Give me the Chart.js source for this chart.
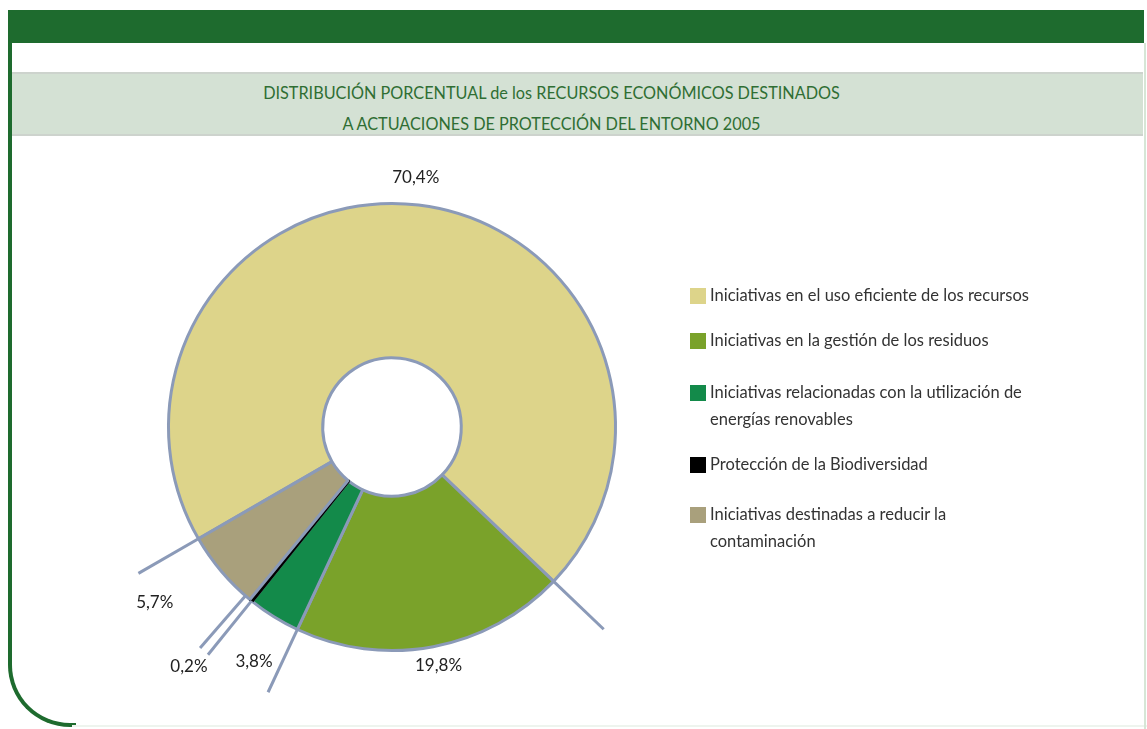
<!DOCTYPE html>
<html>
<head>
<meta charset="utf-8">
<script src="https://cdn.jsdelivr.net/npm/chart.js@4/dist/chart.umd.min.js"></script>
<style>
  html, body { margin: 0; padding: 0; background: #fff; }
  body { width: 1147px; height: 729px; position: relative; overflow: hidden; font-family: Lato, sans-serif; }
  #topBand { position: absolute; left: 8px; top: 10px; width: 1136px; height: 33px; background: #1e6b2e; }
  #corner { position: absolute; left: 8px; top: 43px; width: 64px; height: 680px;
            border-left: 4px solid #1e6b2e; border-bottom: 4px solid #1e6b2e; border-bottom-left-radius: 62px; }
  #bottomLine { position: absolute; left: 72px; top: 725px; width: 1075px; height: 2px; background: #eef4ee; }
  #rightLine { position: absolute; left: 1144px; top: 43px; width: 2px; height: 686px; background: #d6e6d6; }
  #titleBand { position: absolute; left: 12px; top: 72px; width: 1131px; height: 60px; background: #d4e1d4;
               border-top: 2px solid #cdd3cd; border-bottom: 2px solid #cdd3cd; }
  #titleBand div { position: absolute; left: 0; width: 100%; text-align: center; color: #2f6e33; font-size: 17px;
                   transform: translateX(-26px) scaleX(0.955); }
  #chartBox { position: absolute; left: 12px; top: 140px; width: 760px; height: 585px; }
  #legend { position: absolute; left: 690px; top: 282px; width: 380px; color: #333; font-size: 16.5px; }
  .item { position: relative; padding-left: 20px; line-height: 27px; }
  .item span.box { position: absolute; left: 0; top: 6px; width: 16px; height: 16px; }
</style>
</head>
<body>
<div id="topBand"></div>
<div id="corner"></div>
<div id="bottomLine"></div>
<div id="rightLine"></div>
<div id="titleBand">
  <div id="t1" style="top:8px">DISTRIBUCIÓN PORCENTUAL de los RECURSOS ECONÓMICOS DESTINADOS</div>
  <div id="t2" style="top:39px">A ACTUACIONES DE PROTECCIÓN DEL ENTORNO 2005</div>
</div>
<div id="chartBox"><canvas id="pie"></canvas></div>
<div id="legend"></div>
<script>
// categories (legend lines), shares in %, and the printed labels
const categories = [
    ['Iniciativas en el uso eficiente de los recursos'],
    ['Iniciativas en la gestión de los residuos'],
    ['Iniciativas relacionadas con la utilización de', 'energías renovables'],
    ['Protección de la Biodiversidad'],
    ['Iniciativas destinadas a reducir la', 'contaminación']
];
const shares = [70.4, 19.8, 3.8, 0.2, 5.7];
const shareLabels = ['70,4%', '19,8%', '3,8%', '0,2%', '5,7%'];

const sliceColors = ['#ddd48a', '#7aa22a', '#138a4a', '#000000', '#a9a07c'];
const edgeColor = '#8b9ab8';
const sliceEdges = [edgeColor, edgeColor, edgeColor, '#000000', edgeColor];
// label placement: multiple of outer radius, and a small turn (deg) off the slice middle
const labelReach = [1.12, 1.087, 1.217, 1.405, 1.32];
const labelTurn = [-1.4, -0.4, -1.4, 1.2, 3.8];
// leader line at the start of each slice, slight turn (deg) so the two thin ones separate
const leaderTurn = [0, 0, 0, 0.2, 1.5];
// gap above each legend entry
const legendGaps = [0, 18, 25, 18, 23];

const deg = Math.PI / 180;

const leaderLines = {
    id: 'leaderLines',
    afterDatasetsDraw(chart) {
        const ctx = chart.ctx;
        const arcs = chart.getDatasetMeta(0).data;
        ctx.save();
        ctx.strokeStyle = edgeColor;
        ctx.lineWidth = 3;
        arcs.forEach((arc, i) => {
            const {x, y, startAngle, outerRadius} = arc.getProps(['x', 'y', 'startAngle', 'outerRadius'], true);
            const a = startAngle + leaderTurn[i] * deg;
            ctx.beginPath();
            ctx.moveTo(x + Math.cos(a) * outerRadius, y + Math.sin(a) * outerRadius);
            ctx.lineTo(x + Math.cos(a) * outerRadius * 1.31, y + Math.sin(a) * outerRadius * 1.31);
            ctx.stroke();
        });
        ctx.fillStyle = '#222';
        ctx.font = '17px Lato';
        ctx.textAlign = 'center';
        ctx.textBaseline = 'middle';
        arcs.forEach((arc, i) => {
            const {x, y, startAngle, endAngle, outerRadius} = arc.getProps(['x', 'y', 'startAngle', 'endAngle', 'outerRadius'], true);
            const mid = (startAngle + endAngle) / 2 + labelTurn[i] * deg;
            const r = outerRadius * labelReach[i];
            ctx.fillText(shareLabels[i], x + Math.cos(mid) * r, y + Math.sin(mid) * r);
        });
        ctx.restore();
    }
};

const chart = new Chart(document.getElementById('pie'), {
    type: 'doughnut',
    data: {
        labels: categories,
        datasets: [{
            data: shares,
            backgroundColor: sliceColors,
            borderColor: sliceEdges,
            borderWidth: 3
        }]
    },
    options: {
        responsive: true,
        maintainAspectRatio: false,
        animation: false,
        rotation: 240,
        cutout: '31%',
        layout: {padding: {left: 155, right: 155, top: 62, bottom: 73}},
        plugins: {
            legend: {display: false},
            tooltip: {enabled: false}
        }
    },
    plugins: [leaderLines]
});

// html legend from the same arrays
const legendBox = document.getElementById('legend');
categories.forEach((lines, i) => {
    const item = document.createElement('div');
    item.className = 'item';
    item.style.marginTop = legendGaps[i] + 'px';
    item.innerHTML = '<span class="box" style="background:' + sliceColors[i] + '"></span>' + lines.join('<br>');
    legendBox.appendChild(item);
});
</script>
</body>
</html>
